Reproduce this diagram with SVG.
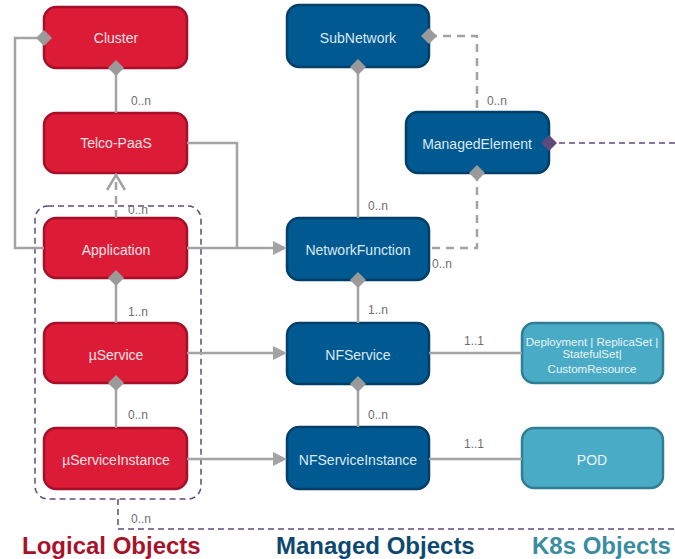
<svg xmlns="http://www.w3.org/2000/svg" width="675" height="559" viewBox="0 0 675 559">
<style>
.red rect{fill:#DC1B36;stroke:#A50F28;stroke-width:2.5}
.blue rect{fill:#005A91;stroke:#003F68;stroke-width:2.5}
.k8s rect{fill:#4AABC6;stroke:#2F7E93;stroke-width:2.5}
.node text{font-family:"Liberation Sans",Arial,sans-serif;font-size:14px;text-anchor:middle}
.red text{fill:#F6E2E5}
.blue text{fill:#DCE8F3}
.k8s text{fill:#EAF5F8}
.k8s text.small{font-size:11.5px}
.ln{fill:none;stroke:#A3A3A3;stroke-width:2.5}
.dash{stroke-dasharray:8 6}
.pdash{fill:none;stroke:#5E4B7E;stroke-width:1.5;stroke-dasharray:6 4}
.lbl{font-family:"Liberation Sans",Arial,sans-serif;font-size:12px;fill:#6E6E6E}
.title{font-family:"Liberation Sans",Arial,sans-serif;font-size:24px;font-weight:bold}
</style>
<defs>
<path id="dia" d="M0,-8 L8,0 L0,8 L-8,0Z" fill="#9A9A9A"/>
<path id="pdia" d="M0,-8 L8,0 L0,8 L-8,0Z" fill="#5E4B7E"/>
<path id="arr" d="M0,0 L-14,-7 L-14,7Z" fill="#A3A3A3"/>
</defs>

<g id="group-box">
<rect x="35" y="206" width="166" height="293" rx="13" class="pdash"/>
</g>

<g id="cluster" class="node red"><rect x="44" y="7" width="143" height="61" rx="12"/><text x="116" y="43">Cluster</text></g>
<g id="telco-paas" class="node red"><rect x="44" y="113" width="143" height="60" rx="12"/><text x="116" y="148">Telco-PaaS</text></g>
<g id="application" class="node red"><rect x="44" y="218" width="143" height="60" rx="12"/><text x="116" y="255">Application</text></g>
<g id="uservice" class="node red"><rect x="44" y="323" width="143" height="60" rx="12"/><text x="116" y="360">µService</text></g>
<g id="userviceinstance" class="node red"><rect x="44" y="428" width="143" height="61" rx="12"/><text x="116" y="465">µServiceInstance</text></g>

<g id="subnetwork" class="node blue"><rect x="287" y="5" width="142" height="62" rx="12"/><text x="358" y="43">SubNetwork</text></g>
<g id="managedelement" class="node blue"><rect x="406" y="112" width="143" height="61" rx="12"/><text x="477" y="149">ManagedElement</text></g>
<g id="networkfunction" class="node blue"><rect x="287" y="218" width="142" height="62" rx="12"/><text x="358" y="255">NetworkFunction</text></g>
<g id="nfservice" class="node blue"><rect x="287" y="323" width="142" height="61" rx="12"/><text x="358" y="360">NFService</text></g>
<g id="nfserviceinstance" class="node blue"><rect x="287" y="427" width="142" height="62" rx="12"/><text x="358" y="465">NFServiceInstance</text></g>

<g id="deployment" class="node k8s"><rect x="522" y="323" width="141" height="60" rx="12"/>
<text class="small" x="592" y="346">Deployment | ReplicaSet |</text>
<text class="small" x="592" y="358">StatefulSet|</text>
<text class="small" x="592" y="373">CustomResource</text></g>
<g id="pod" class="node k8s"><rect x="522" y="428" width="141" height="60" rx="12"/><text x="592" y="465">POD</text></g>

<g id="connectors">
<path class="ln" d="M116,68 V113"/>
<use href="#dia" x="116" y="68"/>
<text class="lbl" x="131" y="105">0..n</text>
<path class="ln" d="M44,38 H15 V248 H44"/>
<use href="#dia" x="44" y="38"/>
<path class="ln dash" d="M116,218 V178"/>
<path class="ln" d="M107,190 L116,175 L125,190"/>
<text class="lbl" x="128" y="214">0..n</text>
<path class="ln" d="M187,143 H237 V248"/>
<path class="ln" d="M187,248 H275"/>
<use href="#arr" x="287" y="248"/>
<path class="ln" d="M358,67 V218"/>
<use href="#dia" x="358" y="67"/>
<text class="lbl" x="368" y="210">0..n</text>
<path class="ln dash" d="M429,36 H477 V112"/>
<use href="#dia" x="429" y="36"/>
<text class="lbl" x="487" y="105">0..n</text>
<path class="ln dash" d="M477,173 V248 H429"/>
<use href="#dia" x="477" y="173"/>
<text class="lbl" x="432" y="268">0..n</text>
<path class="pdash" d="M549,143 H675"/>
<use href="#pdia" x="549" y="143"/>
<path class="ln" d="M358,280 V323"/>
<use href="#dia" x="358" y="280"/>
<text class="lbl" x="368" y="314">1..n</text>
<path class="ln" d="M358,384 V427"/>
<use href="#dia" x="358" y="384"/>
<text class="lbl" x="368" y="419">0..n</text>
<path class="ln" d="M116,278 V323"/>
<use href="#dia" x="116" y="278"/>
<text class="lbl" x="128" y="316">1..n</text>
<path class="ln" d="M116,383 V428"/>
<use href="#dia" x="116" y="383"/>
<text class="lbl" x="128" y="419">0..n</text>
<path class="ln" d="M187,353 H275"/>
<use href="#arr" x="287" y="353"/>
<path class="ln" d="M187,459 H275"/>
<use href="#arr" x="287" y="459"/>
<path class="ln" d="M429,353 H522"/>
<text class="lbl" x="464" y="345">1..1</text>
<path class="ln" d="M429,459 H522"/>
<text class="lbl" x="464" y="448">1..1</text>
<path class="pdash" d="M118,499 V529 H675"/>
<text class="lbl" x="131" y="523">0..n</text>
</g>

<g id="titles">
<text class="title" x="22" y="554" fill="#A8132B">Logical Objects</text>
<text class="title" x="276" y="554" fill="#0D4872">Managed Objects</text>
<text class="title" x="532" y="554" fill="#3A8CA1">K8s Objects</text>
</g>
</svg>
